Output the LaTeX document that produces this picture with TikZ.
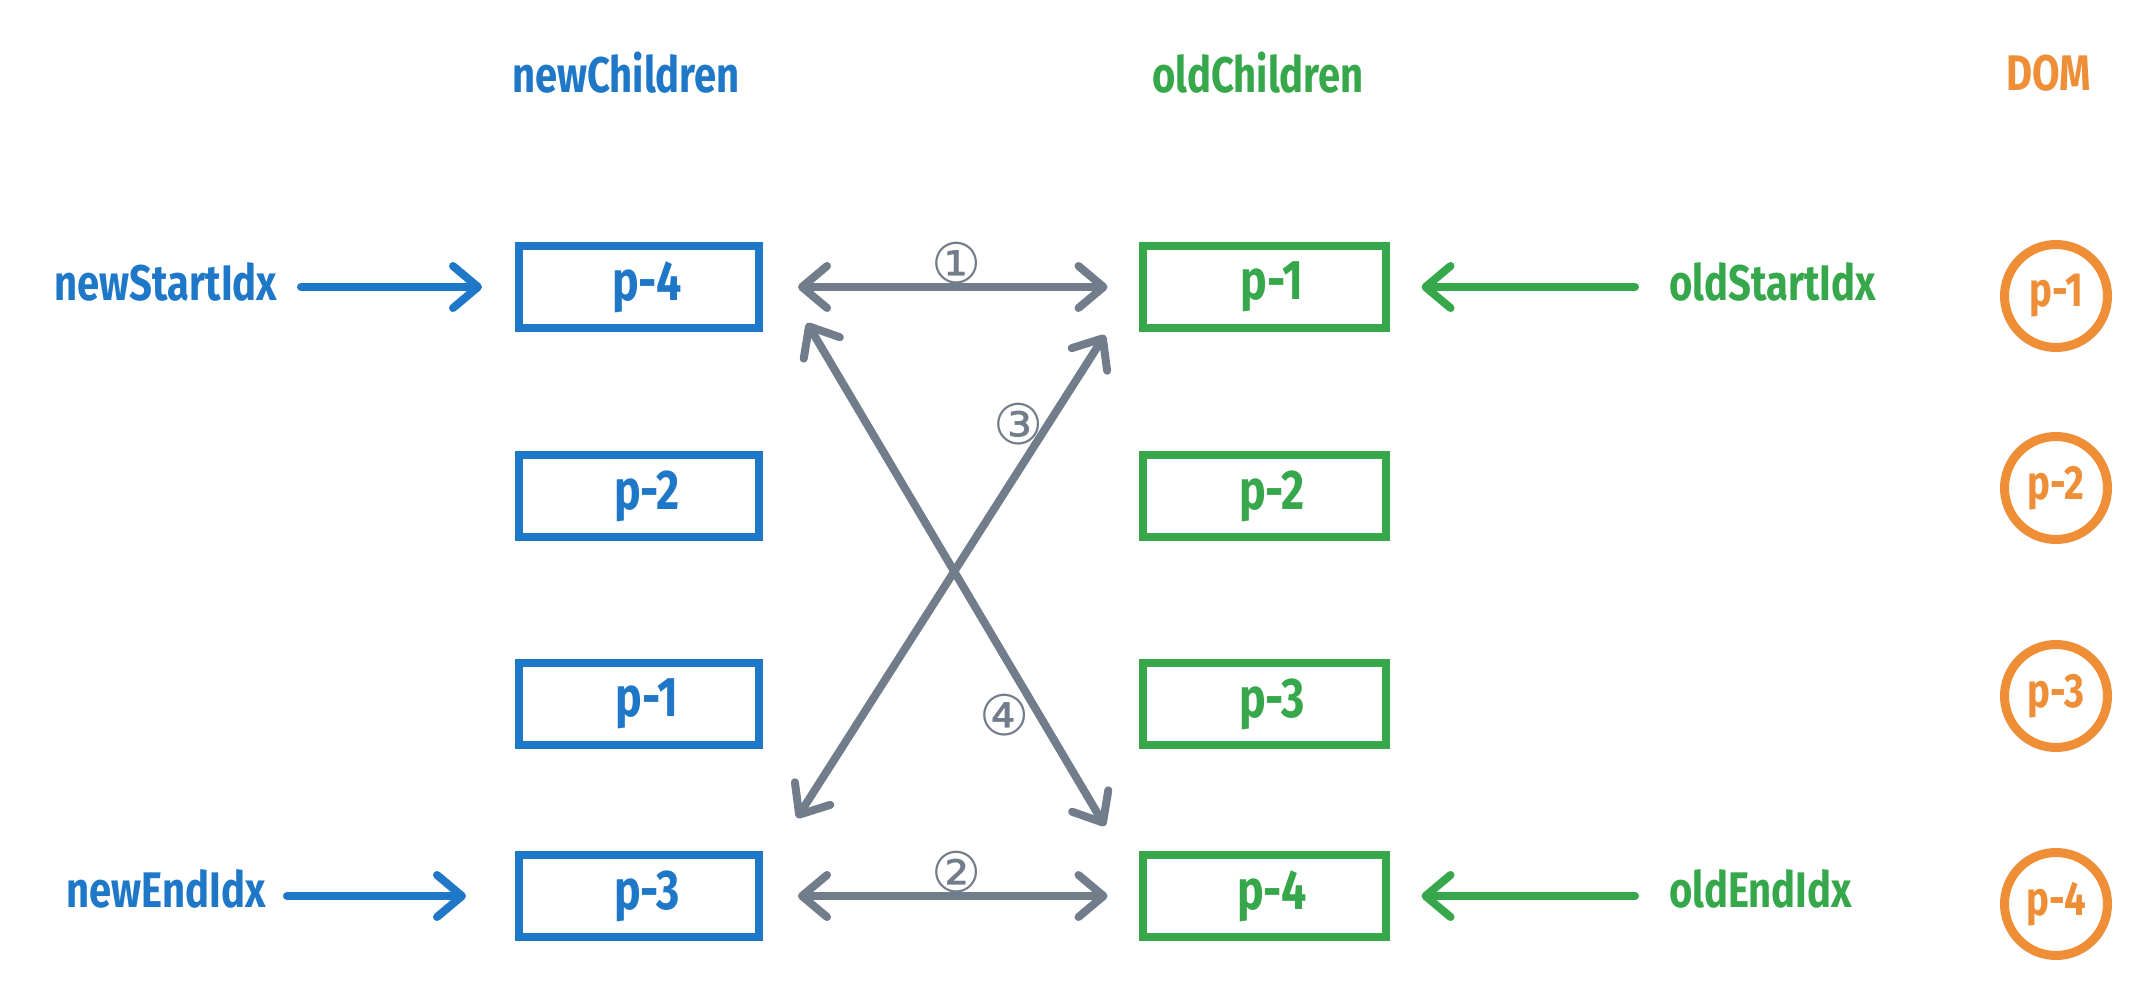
\documentclass[tikz,border=0pt]{standalone}
\usepackage{fontspec}
\setmainfont{Fira Sans}[FakeStretch=0.8]
\newfontfamily\circfont{DejaVu Sans}
\usetikzlibrary{arrows.meta}
\definecolor{cblue}{RGB}{30,119,199}
\definecolor{cgreen}{RGB}{54,167,74}
\definecolor{corange}{RGB}{238,142,55}
\definecolor{cgrey}{RGB}{113,125,139}
\tikzset{tipb/.tip={Straight Barb[length=25pt,width=42pt,line cap=round,line join=round]}}
\begin{document}
\begin{tikzpicture}[x=1pt,y=-1pt,
  hand/.style={font=\fontsize{50}{50}\selectfont\bfseries, inner sep=0pt},
  boxtxt/.style={font=\fontsize{56}{56}\selectfont\bfseries},
  nbox/.style={draw=cblue, text=cblue, line width=8pt, minimum width=240pt, minimum height=82pt, inner sep=0pt, boxtxt},
  obox/.style={draw=cgreen, text=cgreen, line width=8pt, minimum width=243pt, minimum height=82pt, inner sep=0pt, boxtxt},
  domc/.style={draw=corange, text=corange, circle, line width=9pt, minimum size=103pt, inner sep=0pt, font=\fontsize{48}{48}\selectfont\bfseries},
  barrow/.style={-{tipb}, line width=8pt, line cap=round},
  darrow/.style={{tipb}-{tipb}, line width=8pt, line cap=round, draw=cgrey},
  num/.style={font=\circfont\fontsize{56}{56}\selectfont, text=cgrey, inner sep=0pt}
]
\useasboundingbox (0,0) rectangle (2144,992);
% titles
\node[hand, text=cblue] (tn) at (626,73) {newChildren};
\node[hand, text=cgreen] (to) at (1258,73) {oldChildren};
\node[hand, text=corange] (td) at (2049,73) {DOM};
% new children boxes
\node[nbox] (n1) at (639,287) {\hspace*{16pt}p-4};
\node[nbox] (n2) at (639,496) {\hspace*{16pt}p-2};
\node[nbox] (n3) at (639,704) {\hspace*{16pt}p-1};
\node[nbox] (n4) at (639,896) {\hspace*{16pt}p-3};
% old children boxes
\node[obox] (o1) at (1264,287) {\hspace*{16pt}p-1};
\node[obox] (o2) at (1264,496) {\hspace*{16pt}p-2};
\node[obox] (o3) at (1264,704) {\hspace*{16pt}p-3};
\node[obox] (o4) at (1264,896) {\hspace*{16pt}p-4};
% DOM circles
\node[domc] (d1) at (2056,296) {p-1};
\node[domc] (d2) at (2056,488) {p-2};
\node[domc] (d3) at (2056,696) {p-3};
\node[domc] (d4) at (2056,904) {p-4};
% index labels
\node[hand, text=cblue] (nsi) at (166,282) {newStartIdx};
\node[hand, text=cblue] (nei) at (166,889) {newEndIdx};
\node[hand, text=cgreen, anchor=west] (osi) at (1669,282) {oldStartIdx};
\node[hand, text=cgreen, anchor=west] (oei) at (1669,889) {oldEndIdx};
% index arrows
\coordinate (nsiE) at (301,287);
\coordinate (neiE) at (287,896);
\coordinate (osiW) at (1635,287);
\coordinate (oeiW) at (1635,896);
\draw[barrow, draw=cblue] (nsiE) -- ([xshift=-33pt]n1.west |- nsiE);
\draw[barrow, draw=cblue] (neiE) -- ([xshift=-49pt]n4.west |- neiE);
\draw[barrow, draw=cgreen] (osiW) -- ([xshift=32pt]o1.east |- osiW);
\draw[barrow, draw=cgreen] (oeiW) -- ([xshift=32pt]o4.east |- oeiW);
% comparison arrows
\draw[darrow] ([xshift=35pt]n1.east) -- ([xshift=-31pt]o1.west);
\draw[darrow] ([xshift=35pt]n4.east) -- ([xshift=-31pt]o4.west);
\coordinate (a1) at (807,323);
\coordinate (a2) at (1105,826);
\coordinate (b1) at (1105,335);
\coordinate (b2) at (797,818);
\draw[darrow] (a1) -- (a2);
\draw[darrow] (b1) -- (b2);
% step numbers
\node[num] (c1) at (957,263) {①};
\node[num] (c2) at (957,872) {②};
\node[num] (c3) at (1019,424) {③};
\node[num] (c4) at (1005,715) {④};
\end{tikzpicture}
\end{document}
